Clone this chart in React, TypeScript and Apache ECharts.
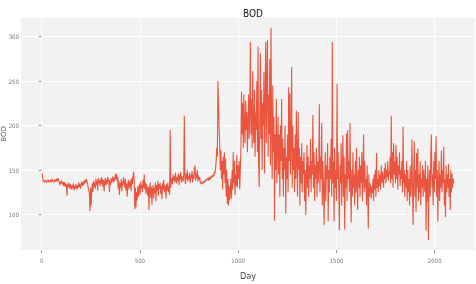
import React, { useEffect, useRef } from "react";
import * as echarts from "echarts";

const DAY_STEP = 3;
const X_TICKS = [0, 500, 1000, 1500, 2000];
const Y_TICKS = [100, 150, 200, 250, 300];

const BOD_VALUES = [
  145, 146, 140, 137, 138, 136, 139, 137, 138, 136,
  137, 139, 136, 138, 137, 139, 136, 138, 140, 137,
  138, 136, 139, 137, 138, 140, 137, 139, 141, 138,
  136, 133, 137, 135, 138, 134, 136, 132, 137, 134,
  131, 135, 133, 121, 134, 130, 136, 132, 129, 134,
  131, 128, 133, 130, 135, 127, 132, 129, 134, 131,
  128, 133, 130, 136, 131, 134, 129, 135, 137, 132,
  136, 133, 138, 135, 139, 136, 140, 137, 134, 130,
  127, 124, 104, 130, 110, 128, 135, 125, 138, 131,
  136, 129, 140, 133, 138, 127, 141, 135, 139, 132,
  137, 142, 134, 140, 131, 139, 126, 136, 141, 133,
  139, 134, 142, 137, 140, 125, 138, 133, 141, 136,
  139, 143, 136, 141, 138, 145, 140, 146, 137, 142,
  128, 138, 122, 135, 130, 140, 126, 137, 133, 142,
  136, 130, 140, 127, 135, 120, 133, 139, 128, 137,
  131, 139, 126, 141, 134, 143, 148, 138, 106, 130,
  108, 125, 116, 132, 120, 128, 134, 122, 137, 129,
  133, 125, 139, 130, 145, 128, 136, 123, 134, 129,
  121, 131, 105, 128, 136, 119, 131, 111, 127, 133,
  118, 130, 124, 136, 115, 133, 127, 138, 121, 134,
  129, 136, 123, 132, 117, 135, 128, 139, 125, 133,
  130, 118, 134, 127, 136, 125, 131, 122, 195, 130,
  137, 141, 134, 145, 138, 143, 136, 147, 140, 135,
  142, 138, 146, 133, 144, 139, 148, 136, 143, 140,
  137, 145, 211, 139, 134, 146, 140, 150, 137, 143,
  139, 147, 135, 144, 141, 149, 136, 145, 140, 152,
  155, 138, 146, 141, 150, 137, 144, 139, 142, 136,
  135, 137, 134, 136, 135, 138, 136, 137, 139, 138,
  140, 139, 141, 138, 142, 140, 139, 143, 141, 144,
  142, 145, 143, 148, 146, 152, 160, 175, 165, 250,
  225, 197, 180, 150, 172, 140, 160, 128, 165, 145,
  170, 135, 163, 120, 150, 112, 140, 110, 132, 116,
  125, 140, 118, 150, 128, 170, 135, 160, 122, 145,
  132, 167, 130, 155, 140, 160, 128, 150, 175, 238,
  190, 225, 175, 235, 200, 180, 228, 195, 215, 170,
  205, 235, 185, 220, 294, 190, 230, 175, 261, 200,
  180, 240, 165, 215, 195, 250, 170, 289, 160, 131,
  210, 281, 185, 240, 150, 225, 200, 260, 146, 230,
  294, 180, 250, 296, 165, 235, 190, 275, 155, 310,
  200, 140, 245, 170, 210, 93, 190, 150, 230, 135,
  175, 210, 145, 190, 120, 200, 160, 230, 140, 185,
  120, 175, 150, 200, 101, 165, 140, 190, 125, 243,
  160, 236, 145, 180, 266, 130, 200, 150, 175, 125,
  190, 140, 217, 160, 120, 215, 150, 175, 110, 165,
  135, 180, 125, 160, 145, 170, 115, 150, 99, 140,
  178, 130, 165, 120, 155, 140, 185, 125, 160, 145,
  212, 130, 170, 115, 155, 140, 175, 120, 160, 135,
  150, 224, 125, 165, 140, 203, 110, 160, 135, 88,
  130, 170, 115, 155, 140, 180, 92, 150, 125, 165,
  140, 185, 120, 294, 135, 160, 92, 175, 130, 150,
  115, 247, 140, 170, 125, 82, 155, 135, 180, 110,
  150, 189, 120, 165, 83, 145, 130, 191, 115, 195,
  140, 160, 125, 203, 135, 91, 150, 120, 170, 130,
  145, 110, 160, 125, 175, 135, 105, 150, 130, 165,
  120, 155, 135, 170, 115, 145, 190, 125, 160, 130,
  140, 110, 155, 125, 84, 145, 120, 135, 128, 118,
  132, 124, 140, 115, 145, 128, 150, 120, 169, 130,
  140, 125, 150, 132, 145, 128, 155, 135, 148, 138,
  130, 152, 140, 158, 135, 150, 142, 160, 138, 148,
  145, 165, 135, 211, 140, 170, 130, 180, 145, 160,
  135, 178, 140, 165, 128, 155, 145, 170, 132, 150,
  140, 160, 125, 199, 135, 150, 120, 145, 130, 160,
  115, 150, 125, 140, 110, 155, 120, 135, 184, 125,
  88, 145, 182, 120, 150, 103, 169, 130, 174, 115,
  145, 125, 160, 110, 140, 130, 155, 120, 150, 135,
  125, 160, 82, 140, 115, 155, 71, 135, 150, 120,
  165, 190, 130, 145, 110, 160, 125, 170, 140, 188,
  120, 150, 92, 140, 160, 115, 145, 130, 172, 125,
  150, 135, 176, 110, 140, 97, 155, 125, 145, 130,
  157, 120, 140, 105, 150, 125, 146, 130, 140, 135,
];

const DAYS = BOD_VALUES.map((_, i) => i * DAY_STEP);

const FONT = "'Liberation Sans Narrow', 'DejaVu Sans Condensed', 'Roboto Condensed', sans-serif";

export default function App() {
  const ref = useRef<HTMLDivElement>(null);
  useEffect(() => {
    if (!ref.current) return;
    const chart = echarts.init(ref.current, undefined, { renderer: "svg" });
    chart.setOption({
      animation: false,
      title: {
        text: "BOD",
        left: 248,
        top: 3,
        textAlign: "center",
        textStyle: { fontFamily: FONT, fontSize: 10, fontWeight: "normal", color: "#111" },
      },
      grid: {
        left: 21,
        right: 1,
        top: 18,
        bottom: 34,
        show: true,
        backgroundColor: "#f2f2f2",
        borderWidth: 0,
        containLabel: false,
        outerBoundsMode: "none",
      },
      xAxis: {
        type: "value",
        min: -105,
        max: 2205,
        name: "Day",
        nameLocation: "middle",
        nameGap: 21,
        nameMoveOverlap: false,
        nameTextStyle: { fontFamily: FONT, fontSize: 9, color: "#444" },
        axisLine: { show: false },
        axisTick: { show: true, length: 3, customValues: X_TICKS, lineStyle: { color: "#999" } },
        axisLabel: {
          customValues: X_TICKS,
          formatter: (v: number) => String(v),
          fontFamily: FONT,
          fontSize: 6,
          color: "#777",
          margin: 7,
        },
        splitLine: { show: true, lineStyle: { color: "#ffffff", width: 1 } },
      },
      yAxis: {
        type: "value",
        min: 60,
        max: 321,
        name: "BOD",
        nameLocation: "middle",
        nameGap: 14,
        nameRotate: 90,
        nameMoveOverlap: false,
        nameTextStyle: { fontFamily: "'DejaVu Sans', sans-serif", fontSize: 7, color: "#555" },
        axisLine: { show: false },
        axisTick: { show: true, length: 3, customValues: Y_TICKS, lineStyle: { color: "#999" } },
        axisLabel: {
          customValues: Y_TICKS,
          formatter: (v: number) => String(v),
          fontFamily: FONT,
          fontSize: 6,
          color: "#777",
          margin: 2,
        },
        splitLine: { show: true, lineStyle: { color: "#ffffff", width: 1 } },
      },
      series: [
        {
          type: "line",
          data: BOD_VALUES.map((v, i) => [DAYS[i], v]),
          showSymbol: false,
          symbol: "none",
          lineStyle: { color: "#e8442a", width: 1.1, opacity: 0.9 },
        },
      ],
    });
    return () => chart.dispose();
  }, []);
  return (
    <div
      ref={ref}
      style={{ position: "fixed", left: 0, top: 0, width: 476, height: 284 }}
    />
  );
}
